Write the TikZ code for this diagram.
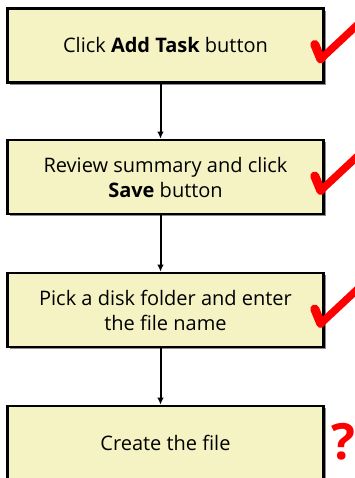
\documentclass[tikz,border=0pt]{standalone}
\usepackage{fontspec}
\setmainfont{Open Sans}
\usetikzlibrary{arrows.meta,shadows}
\definecolor{boxfill}{HTML}{F5F3C4}
\definecolor{markred}{HTML}{FF0000}
\tikzset{
  box/.style={draw=black, line width=2.6pt, fill=boxfill, minimum width=316pt,
    minimum height=74pt, align=center, inner sep=0pt,
    font=\fontsize{20}{25}\selectfont,
    drop shadow={shadow xshift=2.4pt, shadow yshift=-2.4pt, fill=black!45, opacity=1}},
  flow/.style={draw=black, line width=2pt, -{Latex[length=7pt,width=6.5pt]}},
  tickshort/.style={draw=markred, line width=9pt, line cap=round, line join=round},
  ticklong/.style={draw=markred, line width=7.5pt, line cap=round, line join=round},
}
\begin{document}
\begin{tikzpicture}[x=1pt,y=-1pt]
\useasboundingbox (0,0) rectangle (355,478);
\node[box] (b1) at (165.5,45.5) {Click \textbf{Add Task} button};
\node[box] (b2) at (165.5,177) {Review summary and click\\\textbf{Save} button};
\node[box] (b3) at (165.5,310) {Pick a disk folder and enter\\the file name};
\node[box] (b4) at (165.5,443) {Create the file};
\draw[flow] (b1.south -| 160.5,0) -- (b2.north -| 160.5,0);
\draw[flow] (b2.south -| 160.5,0) -- (b3.north -| 160.5,0);
\draw[flow] (b3.south -| 160.5,0) -- (b4.north -| 160.5,0);
\foreach \b in {b1,b2,b3}{
  \coordinate (\b-t0) at ([shift={(-10,-1)}]\b.east);
  \coordinate (\b-t1) at ([shift={(-4,13.5)}]\b.east);
  \coordinate (\b-t2) at ([shift={(34,-22)}]\b.east);
  \draw[ticklong] (\b-t1) -- (\b-t2);
  \draw[tickshort] (\b-t0) -- (\b-t1);
}
\node[text=markred, font=\fontsize{50}{50}\selectfont\bfseries, inner sep=0pt] (q) at (343,442) {?};
\end{tikzpicture}
\end{document}
